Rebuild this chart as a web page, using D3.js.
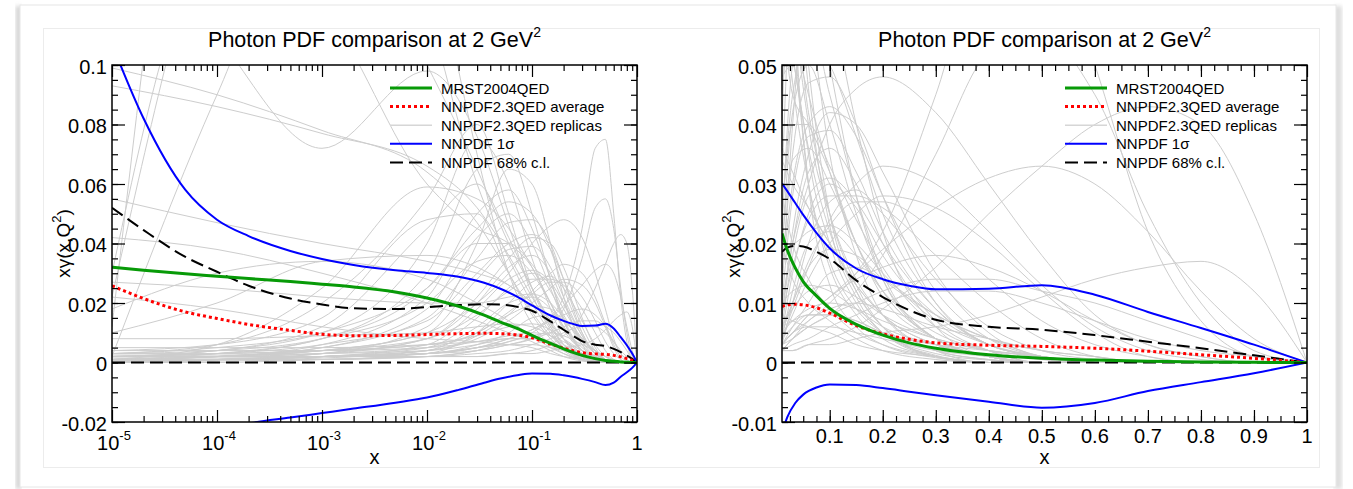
<!DOCTYPE html>
<html>
<head>
<meta charset="utf-8">
<script src="https://cdn.jsdelivr.net/npm/d3@7"></script>
<style>
body { margin: 0; background: #fff; }
svg text { font-family: "Liberation Sans", Arial, Helvetica, sans-serif; }
</style>
</head>
<body>
<div id="chart"></div>
<script>
const width = 1353;
const height = 489;

// ---- data ----
const titleText = 'Photon PDF comparison at 2 GeV';
const legendLabels = ['MRST2004QED', 'NNPDF2.3QED average', 'NNPDF2.3QED replicas', 'NNPDF 1\u03c3', 'NNPDF 68% c.l.'];

// x grid of the central curves
const centralX = [1e-5, 2e-5, 5e-5, 1e-4, 2e-4, 5e-4, 1e-3, 2e-3, 5e-3, 0.01, 0.02, 0.035, 0.05, 0.075, 0.1, 0.15, 0.2, 0.25, 0.3, 0.4, 0.5, 0.6, 0.7, 0.8, 0.9, 1];
const mrst     = [0.032, 0.031, 0.0298, 0.029, 0.0282, 0.0272, 0.0263, 0.0254, 0.0237, 0.0217, 0.0189, 0.0159, 0.0136, 0.0112, 0.0091, 0.0064, 0.0046, 0.0033, 0.0024, 0.0013, 0.0007, 0.0004, 0.0002, 0.0001, 0.00003, 0];
const nnAvg    = [0.0258, 0.0215, 0.017, 0.0148, 0.0128, 0.0108, 0.0095, 0.009, 0.0091, 0.0094, 0.0097, 0.0098, 0.0097, 0.0092, 0.0083, 0.0062, 0.0048, 0.0039, 0.0033, 0.0029, 0.0027, 0.0024, 0.0019, 0.0013, 0.0007, 0];
const sigmaUp  = [0.107, 0.082, 0.058, 0.048, 0.0425, 0.0375, 0.0348, 0.0328, 0.031, 0.0301, 0.0288, 0.0268, 0.0248, 0.0218, 0.0192, 0.0158, 0.014, 0.0129, 0.0123, 0.0124, 0.013, 0.0114, 0.0085, 0.0058, 0.003, 0];
const sigmaLo  = [-0.032, -0.029, -0.025, -0.023, -0.0205, -0.0185, -0.017, -0.0155, -0.0135, -0.0118, -0.0092, -0.0068, -0.0054, -0.0042, -0.0037, -0.0038, -0.0043, -0.0049, -0.0055, -0.0066, -0.0076, -0.0068, -0.0048, -0.0033, -0.0018, 0];
const clUp     = [0.052, 0.0445, 0.0355, 0.0305, 0.0258, 0.0215, 0.0195, 0.0182, 0.018, 0.0186, 0.0193, 0.0196, 0.0195, 0.0186, 0.0174, 0.0138, 0.011, 0.0088, 0.0072, 0.006, 0.0055, 0.0046, 0.0035, 0.0024, 0.0012, 0];
const clLo     = [0, 0, 0, 0, 0, 0, 0, 0, 0, 0, 0, 0, 0, 0, 0, 0, 0, 0, 0, 0, 0, 0, 0, 0, 0, 0];

// x grid of the replicas
const replicaX = [1e-5, 1e-4, 1e-3, 0.01, 0.03, 0.06, 0.1, 0.15, 0.2, 0.3, 0.4, 0.5, 0.6, 0.7, 0.8, 0.9, 1];
const replicas = [
    [0.099, 0.090, 0.078, 0.064, 0.047, 0.030, 0.017, 0.009, 0.005, 0.0015, 0.0004, 0, 0, 0, 0, 0, 0],
    [0.093, 0.086, 0.077, 0.066, 0.052, 0.036, 0.022, 0.012, 0.006, 0.002, 0.0005, 0, 0, 0, 0, 0, 0],
    [0.055, 0.047, 0.040, 0.034, 0.030, 0.026, 0.020, 0.013, 0.008, 0.003, 0.001, 0, 0, 0, 0, 0, 0],
    [0.160, 0.110, 0.072, 0.098, 0.076, 0.046, 0.023, 0.011, 0.005, 0.0012, 0, 0, 0, 0, 0, 0, 0],
    [0.012, 0.250, 0.300, 0.150, 0.070, 0.030, 0.013, 0.006, 0.003, 0.0008, 0, 0, 0, 0, 0, 0, 0],
    [0.022, 0.160, 0.220, 0.120, 0.060, 0.035, 0.020, 0.010, 0.005, 0.001, 0, 0, 0, 0, 0, 0, 0],
    [0.002, 0.090, 0.160, 0.100, 0.065, 0.040, 0.025, 0.014, 0.008, 0.002, 0.0005, 0, 0, 0, 0, 0, 0],
    [0.030, 0.140, 0.120, 0.060, 0.045, 0.040, 0.032, 0.020, 0.011, 0.004, 0.001, 0, 0, 0, 0, 0, 0],
    [0.001, 0.006, 0.025, 0.059, 0.055, 0.045, 0.032, 0.020, 0.012, 0.004, 0.001, 0, 0, 0, 0, 0, 0],
    [0.002, 0.003, 0.008, 0.025, 0.045, 0.054, 0.050, 0.038, 0.025, 0.010, 0.003, 0.001, 0, 0, 0, 0, 0],
    [0.001, 0.002, 0.004, 0.010, 0.020, 0.030, 0.040, 0.046, 0.048, 0.042, 0.030, 0.018, 0.008, 0.003, 0.001, 0, 0],
    [0.0005, 0.001, 0.002, 0.003, 0.005, 0.007, 0.010, 0.015, 0.022, 0.045, 0.072, 0.075, 0.050, 0.022, 0.007, 0.001, 0],
    [0, 0.001, 0.002, 0.003, 0.004, 0.006, 0.008, 0.012, 0.018, 0.035, 0.052, 0.055, 0.045, 0.025, 0.010, 0.002, 0],
    [0, 0.001, 0.001, 0.002, 0.002, 0.003, 0.004, 0.006, 0.009, 0.016, 0.025, 0.033, 0.040, 0.043, 0.040, 0.025, 0],
    [0, 0.001, 0.002, 0.003, 0.005, 0.008, 0.011, 0.015, 0.019, 0.026, 0.031, 0.033, 0.030, 0.022, 0.012, 0.004, 0],
    [0, 0.001, 0.001, 0.002, 0.002, 0.003, 0.003, 0.004, 0.005, 0.006, 0.008, 0.011, 0.014, 0.016, 0.017, 0.012, 0],
    [0.001, 0.002, 0.005, 0.015, 0.035, 0.047, 0.048, 0.040, 0.028, 0.010, 0.003, 0.001, 0, 0, 0, 0, 0],
    [0.002, 0.003, 0.006, 0.014, 0.030, 0.040, 0.043, 0.038, 0.028, 0.012, 0.004, 0.001, 0, 0, 0, 0, 0],
    [0.003, 0.005, 0.010, 0.025, 0.040, 0.040, 0.033, 0.024, 0.016, 0.006, 0.002, 0, 0, 0, 0, 0, 0],
    [0.001, 0.002, 0.004, 0.010, 0.028, 0.038, 0.039, 0.032, 0.022, 0.009, 0.003, 0.001, 0, 0, 0, 0, 0],
    [0.001, 0.003, 0.008, 0.030, 0.065, 0.070, 0.050, 0.028, 0.014, 0.004, 0.001, 0, 0, 0, 0, 0, 0],
    [0.002, 0.004, 0.010, 0.040, 0.075, 0.060, 0.035, 0.018, 0.008, 0.002, 0, 0, 0, 0, 0, 0, 0],
    [0.001, 0.002, 0.004, 0.008, 0.016, 0.024, 0.028, 0.028, 0.026, 0.018, 0.010, 0.004, 0.001, 0, 0, 0, 0],
    [0.002, 0.003, 0.004, 0.006, 0.010, 0.017, 0.023, 0.027, 0.027, 0.022, 0.014, 0.007, 0.003, 0.001, 0, 0, 0],
    [0.001, 0.001, 0.002, 0.003, 0.005, 0.008, 0.011, 0.014, 0.016, 0.018, 0.016, 0.012, 0.007, 0.003, 0.001, 0, 0],
    [0.001, 0.001, 0.002, 0.002, 0.003, 0.004, 0.006, 0.008, 0.010, 0.012, 0.012, 0.010, 0.007, 0.004, 0.002, 0.001, 0],
    [0.003, 0.003, 0.004, 0.006, 0.009, 0.012, 0.013, 0.011, 0.008, 0.004, 0.002, 0.001, 0, 0, 0, 0, 0],
    [0.002, 0.002, 0.002, 0.003, 0.006, 0.010, 0.015, 0.016, 0.014, 0.008, 0.004, 0.002, 0.001, 0, 0, 0, 0],
    [0.001, 0.001, 0.001, 0.002, 0.004, 0.007, 0.009, 0.010, 0.009, 0.006, 0.004, 0.002, 0.001, 0, 0, 0, 0],
    [0.004, 0.004, 0.004, 0.005, 0.007, 0.009, 0.010, 0.009, 0.007, 0.004, 0.002, 0.001, 0, 0, 0, 0, 0],
    [0.0005, 0.0008, 0.0015, 0.004, 0.012, 0.020, 0.022, 0.018, 0.012, 0.005, 0.002, 0.0005, 0, 0, 0, 0, 0],
    [0.001, 0.001, 0.002, 0.005, 0.015, 0.025, 0.030, 0.026, 0.018, 0.008, 0.003, 0.001, 0, 0, 0, 0, 0],
    [0.002, 0.002, 0.003, 0.008, 0.020, 0.032, 0.036, 0.030, 0.020, 0.007, 0.002, 0, 0, 0, 0, 0, 0],
    [0, 0.0005, 0.001, 0.003, 0.010, 0.020, 0.027, 0.029, 0.025, 0.014, 0.006, 0.002, 0.0005, 0, 0, 0, 0],
    [0.010, 0.020, 0.034, 0.036, 0.032, 0.026, 0.020, 0.013, 0.008, 0.003, 0.001, 0, 0, 0, 0, 0, 0],
    [0.008, 0.008, 0.009, 0.010, 0.012, 0.013, 0.012, 0.009, 0.006, 0.003, 0.001, 0, 0, 0, 0, 0, 0],
    [0.042, 0.038, 0.030, 0.020, 0.014, 0.010, 0.007, 0.004, 0.002, 0.0005, 0, 0, 0, 0, 0, 0, 0],
    [0.022, 0.018, 0.012, 0.008, 0.007, 0.006, 0.005, 0.003, 0.002, 0.001, 0, 0, 0, 0, 0, 0, 0],
    [0.018, 0.030, 0.034, 0.028, 0.020, 0.014, 0.009, 0.005, 0.003, 0.001, 0, 0, 0, 0, 0, 0, 0],
    [0.027, 0.025, 0.022, 0.020, 0.020, 0.022, 0.023, 0.020, 0.015, 0.007, 0.003, 0.001, 0, 0, 0, 0, 0],
    [0.001, 0.001, 0.002, 0.004, 0.008, 0.014, 0.020, 0.025, 0.028, 0.026, 0.020, 0.012, 0.005, 0.001, 0, 0, 0],
    [0, 0, 0.001, 0.002, 0.004, 0.006, 0.008, 0.010, 0.012, 0.014, 0.014, 0.012, 0.010, 0.007, 0.004, 0.001, 0],
    [0.005, 0.005, 0.005, 0.006, 0.007, 0.008, 0.008, 0.007, 0.005, 0.003, 0.002, 0.001, 0, 0, 0, 0, 0],
    [0.002, 0.002, 0.003, 0.005, 0.010, 0.016, 0.019, 0.018, 0.014, 0.008, 0.004, 0.001, 0, 0, 0, 0, 0],
    [0.003, 0.006, 0.020, 0.055, 0.080, 0.050, 0.025, 0.012, 0.006, 0.001, 0, 0, 0, 0, 0, 0, 0],
    [0.001, 0.002, 0.006, 0.022, 0.050, 0.058, 0.045, 0.028, 0.015, 0.004, 0.001, 0, 0, 0, 0, 0, 0],
    [0.0005, 0.001, 0.003, 0.012, 0.040, 0.065, 0.060, 0.040, 0.022, 0.006, 0.001, 0, 0, 0, 0, 0, 0],
    [0.002, 0.004, 0.012, 0.045, 0.060, 0.042, 0.025, 0.013, 0.006, 0.001, 0, 0, 0, 0, 0, 0, 0],
    [0.001, 0.001, 0.003, 0.008, 0.022, 0.035, 0.042, 0.040, 0.032, 0.015, 0.005, 0.001, 0, 0, 0, 0, 0],
    [0.003, 0.004, 0.008, 0.020, 0.034, 0.036, 0.030, 0.020, 0.012, 0.004, 0.001, 0, 0, 0, 0, 0, 0],
    [0.001, 0.002, 0.005, 0.018, 0.042, 0.050, 0.040, 0.025, 0.014, 0.004, 0.001, 0, 0, 0, 0, 0, 0],
    [0, 0.001, 0.002, 0.006, 0.018, 0.028, 0.031, 0.027, 0.020, 0.009, 0.003, 0.001, 0, 0, 0, 0, 0],
    [0.004, 0.006, 0.015, 0.048, 0.050, 0.030, 0.016, 0.008, 0.004, 0.001, 0, 0, 0, 0, 0, 0, 0],
    [0.001, 0.001, 0.002, 0.004, 0.009, 0.016, 0.024, 0.030, 0.033, 0.030, 0.022, 0.013, 0.006, 0.002, 0.0005, 0, 0],
    [0.0015, 0.0015, 0.002, 0.003, 0.005, 0.006, 0.006, 0.005, 0.004, 0.002, 0.001, 0, 0, 0, 0, 0, 0],
    [0.0025, 0.0025, 0.003, 0.004, 0.006, 0.008, 0.008, 0.007, 0.005, 0.003, 0.001, 0, 0, 0, 0, 0, 0]
];

// tick values
const leftYTicks = [-0.02, 0, 0.02, 0.04, 0.06, 0.08, 0.1];
const leftYLabels = ['-0.02', '0', '0.02', '0.04', '0.06', '0.08', '0.1'];
const leftXTicks = [1e-5, 1e-4, 1e-3, 1e-2, 1e-1, 1];
const leftXExp = ['-5', '-4', '-3', '-2', '-1', ''];
const rightYTicks = [-0.01, 0, 0.01, 0.02, 0.03, 0.04, 0.05];
const rightYLabels = ['-0.01', '0', '0.01', '0.02', '0.03', '0.04', '0.05'];
const rightXTicks = [0.1, 0.2, 0.3, 0.4, 0.5, 0.6, 0.7, 0.8, 0.9, 1];
const rightXLabels = ['0.1', '0.2', '0.3', '0.4', '0.5', '0.6', '0.7', '0.8', '0.9', '1'];

const svg = d3.select('#chart')
    .append('svg')
    .attr('width', width)
    .attr('height', height);

// page frame (card with soft shadow)
const defs = svg.append('defs');
defs.append('filter').attr('id', 'blur')
    .append('feGaussianBlur').attr('stdDeviation', 2);

svg.append('rect').attr('x', 0).attr('y', 0).attr('width', width).attr('height', height).attr('fill', '#fff');
svg.append('rect').attr('x', 16).attr('y', 6).attr('width', 5).attr('height', 483)
    .attr('fill', '#cfcfcf').attr('filter', 'url(#blur)');
svg.append('rect').attr('x', 1334).attr('y', 6).attr('width', 8).attr('height', 483)
    .attr('fill', '#dedede').attr('filter', 'url(#blur)');
svg.append('rect').attr('x', 20).attr('y', 5).attr('width', 1316).attr('height', 482)
    .attr('fill', '#fff').attr('stroke', '#e6e6e6').attr('stroke-width', 1);
svg.append('rect').attr('x', 43.5).attr('y', 28.5).attr('width', 1276).attr('height', 439)
    .attr('fill', 'none').attr('stroke', '#ececec').attr('stroke-width', 1);

function drawPanel(cfg)
{
    const x = cfg.x;
    const y = cfg.y;
    const [xa, xb] = x.range();
    const [yb, ya] = y.range();
    const g = svg.append('g');

    // clip to the plot box
    defs.append('clipPath').attr('id', 'clip-' + cfg.id)
        .append('rect')
        .attr('x', xa).attr('y', ya)
        .attr('width', xb - xa).attr('height', yb - ya);

    const plot = g.append('g').attr('clip-path', `url(#clip-${cfg.id})`);
    const xMin = x.domain()[0];

    function path(xs, ys)
    {
        const pts = xs.map((v, i) => [v, ys[i]]).filter(p => p[0] >= xMin);
        return d3.line()
            .x(p => x(p[0]))
            .y(p => y(p[1]))
            .curve(d3.curveMonotoneX)(pts);
    }

    // replicas
    replicas.forEach(r => {
        plot.append('path')
            .attr('d', path(replicaX, r))
            .attr('fill', 'none')
            .attr('stroke', '#cdcdcd')
            .attr('stroke-width', 1);
    });

    // 68% c.l.
    [clLo, clUp].forEach(s => {
        plot.append('path')
            .attr('d', path(centralX, s))
            .attr('fill', 'none')
            .attr('stroke', '#000')
            .attr('stroke-width', 2)
            .attr('stroke-dasharray', '13,6');
    });

    // 1 sigma
    [sigmaLo, sigmaUp].forEach(s => {
        plot.append('path')
            .attr('d', path(centralX, s))
            .attr('fill', 'none')
            .attr('stroke', '#0000ff')
            .attr('stroke-width', 2);
    });

    // average
    plot.append('path')
        .attr('d', path(centralX, nnAvg))
        .attr('fill', 'none')
        .attr('stroke', '#ff0000')
        .attr('stroke-width', 3)
        .attr('stroke-dasharray', '3,3');

    // MRST
    plot.append('path')
        .attr('d', path(centralX, mrst))
        .attr('fill', 'none')
        .attr('stroke', '#079a07')
        .attr('stroke-width', 3);

    // ticks, all pointing inward
    function ticks(axis, transform)
    {
        g.append('g')
            .attr('transform', transform)
            .call(axis)
            .call(s => s.select('.domain').remove())
            .call(s => s.selectAll('line').attr('stroke', '#000').attr('stroke-width', 1.2));
    }
    ticks(d3.axisBottom(x).tickValues(cfg.xMinor).tickSize(-6).tickFormat(''), `translate(0,${yb})`);
    ticks(d3.axisTop(x).tickValues(cfg.xMinor).tickSize(-6).tickFormat(''), `translate(0,${ya})`);
    ticks(d3.axisBottom(x).tickValues(cfg.xTicks).tickSize(-12).tickFormat(''), `translate(0,${yb})`);
    ticks(d3.axisTop(x).tickValues(cfg.xTicks).tickSize(-12).tickFormat(''), `translate(0,${ya})`);
    ticks(d3.axisLeft(y).tickValues(cfg.yMinor).tickSize(-6).tickFormat(''), `translate(${xa},0)`);
    ticks(d3.axisRight(y).tickValues(cfg.yMinor).tickSize(-6).tickFormat(''), `translate(${xb},0)`);
    ticks(d3.axisRight(y).tickValues(cfg.yTicks).tickSize(-13).tickFormat(''), `translate(${xb},0)`);

    // y axis with labels
    g.append('g')
        .attr('transform', `translate(${xa},0)`)
        .call(d3.axisLeft(y).tickValues(cfg.yTicks).tickSize(-13).tickPadding(5)
            .tickFormat((d, i) => cfg.yLabels[i]))
        .call(s => s.select('.domain').remove())
        .call(s => s.selectAll('line').attr('stroke', '#000').attr('stroke-width', 1.2))
        .call(s => s.selectAll('text')
            .attr('font-family', '"Liberation Sans", Arial, sans-serif')
            .attr('font-size', 20)
            .attr('fill', '#000')
            .attr('dy', '0.42em'));

    // x labels
    cfg.xLabels(g);

    // frame
    g.append('rect')
        .attr('x', xa).attr('y', ya)
        .attr('width', xb - xa).attr('height', yb - ya)
        .attr('fill', 'none')
        .attr('stroke', '#000')
        .attr('stroke-width', 1.5);

    // title
    const t = g.append('text')
        .attr('x', (xa + xb) / 2)
        .attr('y', 47)
        .attr('text-anchor', 'middle')
        .attr('font-size', 21.5)
        .text(titleText);
    t.append('tspan').attr('dy', -10).attr('font-size', 14).text('2');

    // axis titles
    g.append('text')
        .attr('x', (xa + xb) / 2)
        .attr('y', 464)
        .attr('text-anchor', 'middle')
        .attr('font-size', 20)
        .text('x');

    const yl = g.append('text')
        .attr('transform', `translate(${xa - 42},${(ya + yb) / 2}) rotate(-90)`)
        .attr('text-anchor', 'middle')
        .attr('font-size', 19)
        .text('x\u03b3(x,Q');
    yl.append('tspan').attr('dy', -9).attr('font-size', 13).text('2');
    yl.append('tspan').attr('dy', 9).text(')');

    // legend
    const styles = [
        { stroke: '#079a07', width: 3, dash: null },
        { stroke: '#ff0000', width: 3, dash: '3,3' },
        { stroke: '#d6d6d6', width: 1.5, dash: null },
        { stroke: '#0000ff', width: 2, dash: null },
        { stroke: '#000', width: 2, dash: '13,6' }
    ];
    legendLabels.forEach((label, i) => {
        const ly = ya + 23 + i * 18.6;
        g.append('line')
            .attr('x1', xa + cfg.legendX).attr('x2', xa + cfg.legendX + 42)
            .attr('y1', ly).attr('y2', ly)
            .attr('stroke', styles[i].stroke)
            .attr('stroke-width', styles[i].width)
            .attr('stroke-dasharray', styles[i].dash);
        g.append('text')
            .attr('x', xa + cfg.legendX + 51)
            .attr('y', ly + 5.5)
            .attr('font-size', 15)
            .text(label);
    });
}

// left panel: logarithmic x
const xLog = d3.scaleLog().domain([1e-5, 1]).range([112, 637]);
const yLeft = d3.scaleLinear().domain([-0.02, 0.1]).range([422, 65]);
const logMinor = [];
for (let e = -5; e < 0; e++) {
    for (let k = 2; k <= 9; k++) logMinor.push(k * Math.pow(10, e));
}

drawPanel({
    id: 'left',
    x: xLog,
    y: yLeft,
    xTicks: leftXTicks,
    xMinor: logMinor,
    yTicks: leftYTicks,
    yLabels: leftYLabels,
    yMinor: d3.range(-0.02, 0.1001, 0.005),
    legendX: 278,
    xLabels: g => {
        leftXTicks.forEach((v, i) => {
            const t = g.append('text')
                .attr('x', xLog(v) + (i === leftXTicks.length - 1 ? 0 : 2))
                .attr('y', 450)
                .attr('text-anchor', 'middle')
                .attr('font-size', 20)
                .text(leftXExp[i] ? '10' : '1');
            if (leftXExp[i]) {
                t.append('tspan').attr('dy', -10).attr('font-size', 13).text(leftXExp[i]);
            }
        });
    }
});

// right panel: linear x
const xLin = d3.scaleLinear().domain([0.01, 1]).range([782, 1307]);
const yRight = d3.scaleLinear().domain([-0.01, 0.05]).range([422, 65]);

drawPanel({
    id: 'right',
    x: xLin,
    y: yRight,
    xTicks: rightXTicks,
    xMinor: d3.range(0.025, 1, 0.025),
    yTicks: rightYTicks,
    yLabels: rightYLabels,
    yMinor: d3.range(-0.01, 0.0501, 0.0025),
    legendX: 283,
    xLabels: g => {
        rightXTicks.forEach((v, i) => {
            g.append('text')
                .attr('x', xLin(v))
                .attr('y', 443)
                .attr('text-anchor', 'middle')
                .attr('font-size', 20)
                .text(rightXLabels[i]);
        });
    }
});
</script>
</body>
</html>
